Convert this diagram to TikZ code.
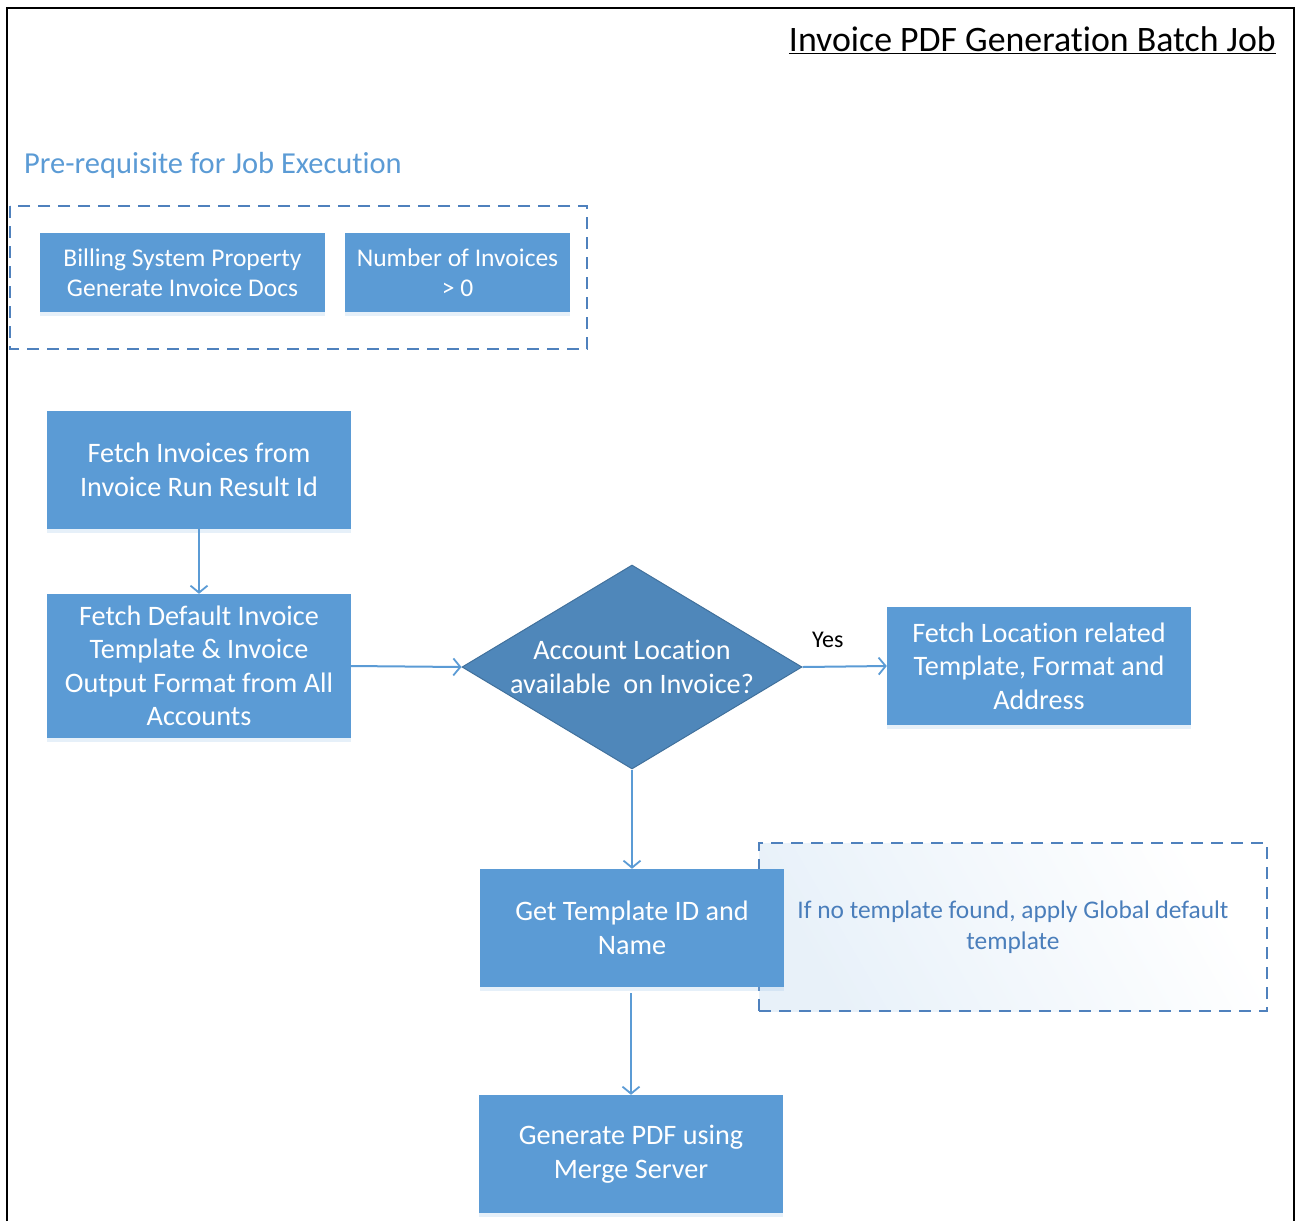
\documentclass[tikz,border=0pt]{standalone}
\usepackage{fontspec}
\setmainfont{Carlito}[Ligatures=NoCommon]
\usetikzlibrary{arrows.meta,shapes.geometric,positioning,shadows}

\definecolor{boxblue}{HTML}{5B9BD5}
\definecolor{diablue}{HTML}{4F87BA}
\definecolor{diaedge}{HTML}{41719C}
\definecolor{dashblue}{HTML}{4F81BD}
\definecolor{noteblue}{HTML}{4A7EBB}

\begin{document}
\begin{tikzpicture}[x=1pt,y=-1pt]
                    \tikzstyle{every node}+=[inner sep=0pt]
                    \tikzstyle{process}=[rectangle, fill=boxblue, text=white, align=center,
                        minimum width=304pt, minimum height=118pt,
                        font=\fontsize{28.2}{33.5}\selectfont,
                        drop shadow={shadow xshift=0pt, shadow yshift=-4pt, opacity=0.25, fill=boxblue!60}]
                    \tikzstyle{small}=[process, minimum height=79pt, font=\fontsize{25.5}{30}\selectfont]
                    \tikzstyle{decision}=[diamond, fill=diablue, draw=diaedge, line width=1pt,
                        minimum width=340pt, minimum height=204pt]
                    \tikzstyle{group}=[draw=dashblue, line width=1.5pt, dash pattern=on 12pt off 8pt]
                    \tikzstyle{flow}=[draw=boxblue, line width=2pt, -{Straight Barb[length=7pt,width=17pt,line width=1.8pt]}]
                    \useasboundingbox (0,0) rectangle (1297,1221);
                    % frame and titles
                    \draw [black, line width=2pt] (7,1221) -- (7,8) -- (1294,8) -- (1294,1221);
                    \node [anchor=east, font=\fontsize{35.8}{40}\selectfont] (title) at (1276,40) {\underline{Invoice PDF Generation Batch Job}};
                    \node [anchor=west, text=boxblue, font=\fontsize{30.5}{34}\selectfont] (prereq) at (24,165) {Pre-requisite for Job Execution};
                    % pre-requisites
                    \draw [group] (10,206) rectangle (587,349);
                    \node [small, minimum width=285pt] (billing) at (182.5,272.5) {Billing System Property\\Generate Invoice Docs};
                    \node [small, minimum width=225pt] (count) at (457.5,272.5) {Number of Invoices\\> 0};
                    % note behind the template box
                    \node [group, rectangle, minimum width=508pt, minimum height=168pt,
                        left color=boxblue!14, right color=white, shading angle=120] (note) at (1013,927) {};
                    \node [text=noteblue, align=center, font=\fontsize{25.4}{31}\selectfont] (notetext) at (1013,927) {If no template found, apply Global default\\template};
                    % flow
                    \node [process] (fetch) at (199,470) {Fetch Invoices from\\Invoice Run Result Id};
                    \node [process, minimum height=144pt] (default) at (199,666) {Fetch Default Invoice\\Template \& Invoice\\Output Format from All\\Accounts};
                    \node [decision] (check) at (632,667) {};
                    \node [text=white, align=center, font=\fontsize{28.2}{33.5}\selectfont] (checktext) at (632,667) {Account Location\\available\ \ on Invoice?};
                    \node [process] (location) at (1039,666) {Fetch Location related\\Template, Format and\\Address};
                    \node [process] (template) at (632,928) {Get Template ID and\\Name};
                    \node [process] (generate) at (631,1154) {Generate PDF using\\Merge Server};
                    \draw [flow] (fetch) -- (default);
                    \draw [flow] (default.east) -- (check.west);
                    \draw [flow] (check.east) -- (location.west) node [pos=0.3, above=18pt, font=\fontsize{24}{28}\selectfont] (yes) {Yes};
                    \draw [flow] (check.south) -- (template.north);
                    \draw [flow, shorten <=6pt] (template.south -| generate.north) -- (generate.north);
                \end{tikzpicture}
\end{document}
